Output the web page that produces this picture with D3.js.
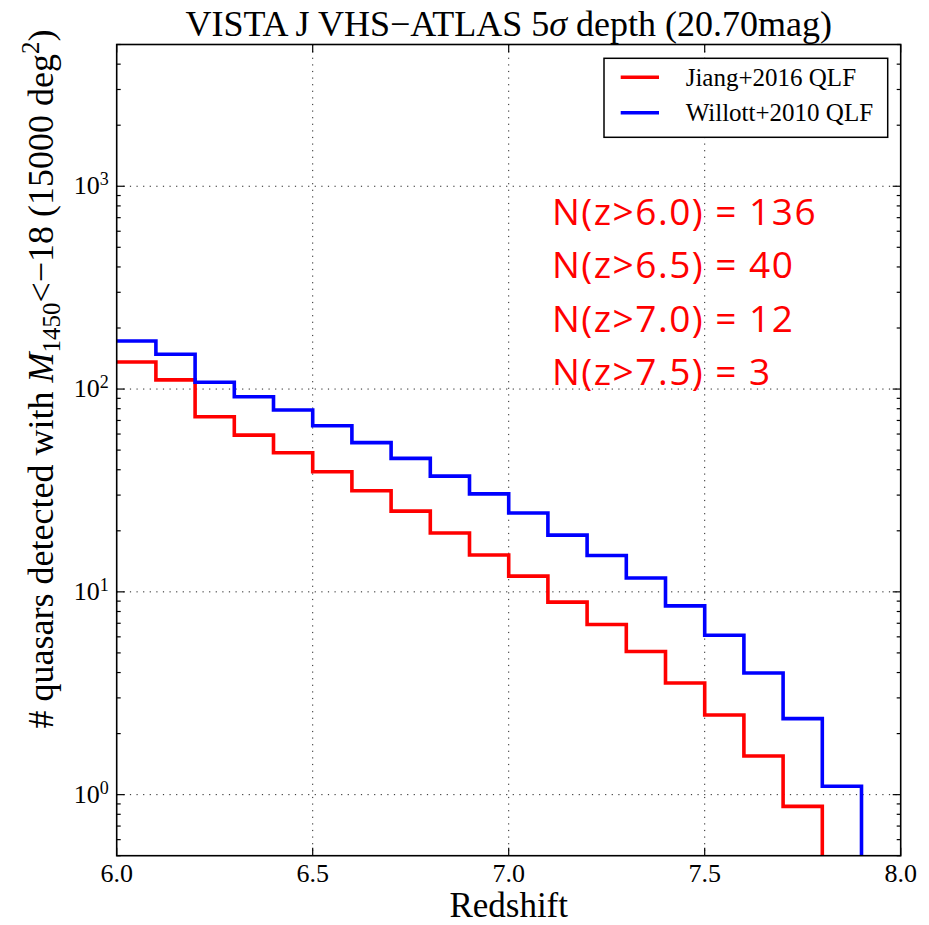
<!DOCTYPE html>
<html>
<head>
<meta charset="utf-8">
<script src="https://cdn.jsdelivr.net/npm/d3@7"></script>
<style>
  body { margin: 0; background: #fff; }
  svg { display: block; }
</style>
</head>
<body>
<div id="chart"></div>
<script>
// bin left edges (redshift)
var binEdges = [6.0, 6.1, 6.2, 6.3, 6.4, 6.5, 6.6, 6.7, 6.8, 6.9,
                7.0, 7.1, 7.2, 7.3, 7.4, 7.5, 7.6, 7.7, 7.8, 7.9];
var zEnd = 8.0;
// cumulative counts N(>z) (0 = off the bottom)
var jiang = [136, 111, 73, 59.3, 48.5, 39.1, 31.5, 25.0, 19.5, 15.2,
             11.95, 8.9, 6.9, 5.08, 3.55, 2.47, 1.55, 0.875, 0, 0];
var willott = [172.7, 148.5, 108, 91.7, 78.8, 65.9, 54.4, 45.5, 37.2, 30.4,
               24.5, 19.05, 15.1, 11.7, 8.53, 6.11, 3.98, 2.37, 1.10, 0];
var seriesNames = ["Jiang+2016 QLF", "Willott+2010 QLF"];
var seriesColors = ["#ff0000", "#0000ff"];
var xTicks = [6.0, 6.5, 7.0, 7.5, 8.0];
var yTicks = [1, 10, 100, 1000];
var notes = ["N(z>6.0) = 136", "N(z>6.5) = 40", "N(z>7.0) = 12", "N(z>7.5) = 3"];

var SERIF = "'Liberation Serif', 'Times New Roman', serif";
var SANS = "'Open Sans', 'Noto Sans', sans-serif";

var W = 929, H = 925;
var plot = { left: 116.7, right: 900.7, top: 44.5, bottom: 855.7 };

var svg = d3.select("#chart").append("svg")
  .attr("width", W).attr("height", H)
  .style("font-family", SERIF);
svg.append("rect").attr("width", W).attr("height", H).attr("fill", "#fff");

var x = d3.scaleLinear().domain([6.0, 8.0]).range([plot.left, plot.right]);
var y = d3.scaleLog().domain([0.5, 5000]).range([plot.bottom, plot.top]);

svg.append("clipPath").attr("id", "clip")
  .append("rect")
  .attr("x", plot.left).attr("y", plot.top)
  .attr("width", plot.right - plot.left).attr("height", plot.bottom - plot.top);

// grid
var grid = svg.append("g").attr("stroke", "#222").attr("stroke-width", 1)
  .attr("stroke-dasharray", "1.2,5.4");
grid.selectAll(".gx").data(xTicks.slice(1, -1)).enter().append("line")
  .attr("x1", d => x(d)).attr("x2", d => x(d))
  .attr("y1", plot.top).attr("y2", plot.bottom);
grid.selectAll(".gy").data(yTicks).enter().append("line")
  .attr("x1", plot.left).attr("x2", plot.right)
  .attr("y1", d => y(d)).attr("y2", d => y(d));

// step lines
var line = d3.line()
  .x(d => x(d.z))
  .y(d => d.v > 0 ? y(d.v) : plot.bottom + 20)
  .curve(d3.curveStepAfter);

[jiang, willott].forEach(function (vals, i) {
  var pts = binEdges.map((z, k) => ({ z: z, v: vals[k] }));
  pts.push({ z: zEnd, v: vals[vals.length - 1] });
  svg.append("path")
    .attr("clip-path", "url(#clip)")
    .attr("d", line(pts))
    .attr("fill", "none")
    .attr("stroke", seriesColors[i])
    .attr("stroke-width", 3.6)
    .attr("stroke-linejoin", "miter");
});

// minor log ticks
var minor = [];
for (var e = -1; e <= 3; e++) {
  for (var m = 2; m <= 9; m++) {
    var v = m * Math.pow(10, e);
    if (v >= 0.5 && v <= 5000) minor.push(v);
  }
}
var tk = svg.append("g").attr("stroke", "#000").attr("stroke-width", 1.2);
tk.selectAll(".mnl").data(minor).enter().append("line")
  .attr("x1", plot.left).attr("x2", plot.left + 4)
  .attr("y1", d => y(d)).attr("y2", d => y(d));
tk.selectAll(".mnr").data(minor).enter().append("line")
  .attr("x1", plot.right).attr("x2", plot.right - 4)
  .attr("y1", d => y(d)).attr("y2", d => y(d));
tk.selectAll(".mjl").data(yTicks).enter().append("line")
  .attr("x1", plot.left).attr("x2", plot.left + 8)
  .attr("y1", d => y(d)).attr("y2", d => y(d));
tk.selectAll(".mjr").data(yTicks).enter().append("line")
  .attr("x1", plot.right).attr("x2", plot.right - 8)
  .attr("y1", d => y(d)).attr("y2", d => y(d));
tk.selectAll(".xb").data(xTicks).enter().append("line")
  .attr("x1", d => x(d)).attr("x2", d => x(d))
  .attr("y1", plot.bottom).attr("y2", plot.bottom - 8);
tk.selectAll(".xt").data(xTicks).enter().append("line")
  .attr("x1", d => x(d)).attr("x2", d => x(d))
  .attr("y1", plot.top).attr("y2", plot.top + 8);

// frame
svg.append("rect")
  .attr("x", plot.left).attr("y", plot.top)
  .attr("width", plot.right - plot.left).attr("height", plot.bottom - plot.top)
  .attr("fill", "none").attr("stroke", "#000").attr("stroke-width", 1.6);

// tick labels
svg.selectAll(".xl").data(xTicks).enter().append("text")
  .attr("x", d => x(d)).attr("y", plot.bottom + 26)
  .attr("text-anchor", "middle")
  .style("font-family", SERIF).style("font-size", "26px")
  .text(d => d3.format(".1f")(d));

var yl = svg.selectAll(".yl").data(yTicks).enter().append("text")
  .attr("x", plot.left - 8).attr("y", d => y(d) + 8)
  .attr("text-anchor", "end")
  .style("font-family", SERIF).style("font-size", "26px");
yl.append("tspan").text("10");
yl.append("tspan").attr("dy", -9).style("font-size", "18px")
  .text(d => Math.round(Math.log10(d)));

// title and axis labels
svg.append("text").attr("x", (plot.left + plot.right) / 2).attr("y", 36)
  .attr("text-anchor", "middle")
  .style("font-family", SERIF).style("font-size", "36px")
  .html("VISTA J VHS\u2212ATLAS 5<tspan font-style=\"italic\">\u03c3</tspan> depth (20.70mag)");

svg.append("text").attr("x", (plot.left + plot.right) / 2).attr("y", 917)
  .attr("text-anchor", "middle")
  .style("font-family", SERIF).style("font-size", "35px")
  .text("Redshift");

var ylab = svg.append("text")
  .attr("transform", "translate(53,379) rotate(-90)")
  .attr("text-anchor", "middle")
  .style("font-family", SERIF).style("font-size", "36px");
ylab.append("tspan").text("# quasars detected with ");
ylab.append("tspan").style("font-style", "italic").text("M");
ylab.append("tspan").style("font-size", "25px").attr("dy", 7).text("1450");
ylab.append("tspan").attr("dy", -7).text("<\u221218 (15000 deg");
ylab.append("tspan").style("font-size", "25px").attr("dy", -14).text("2");
ylab.append("tspan").attr("dy", 14).text(")");

// legend
var lg = svg.append("g");
lg.append("rect").attr("x", 604).attr("y", 58.3).attr("width", 283.7).attr("height", 79)
  .attr("fill", "#fff").attr("stroke", "#000").attr("stroke-width", 1.5);
seriesNames.forEach(function (name, i) {
  var ly = 77.3 + i * 35.4;
  lg.append("line").attr("x1", 620.7).attr("x2", 659).attr("y1", ly).attr("y2", ly)
    .attr("stroke", seriesColors[i]).attr("stroke-width", 3.6);
  lg.append("text").attr("x", 685.7).attr("y", ly + 8.5)
    .style("font-family", SERIF).style("font-size", "25px").text(name);
});

// annotations
svg.selectAll(".note").data(notes).enter().append("text")
  .attr("x", 552).attr("y", (d, i) => 225 + i * 53.4)
  .style("font-family", SANS)
  .style("font-size", "37px").style("letter-spacing", "1.5px")
  .style("fill", "#ff0000")
  .text(d => d);
</script>
</body>
</html>
